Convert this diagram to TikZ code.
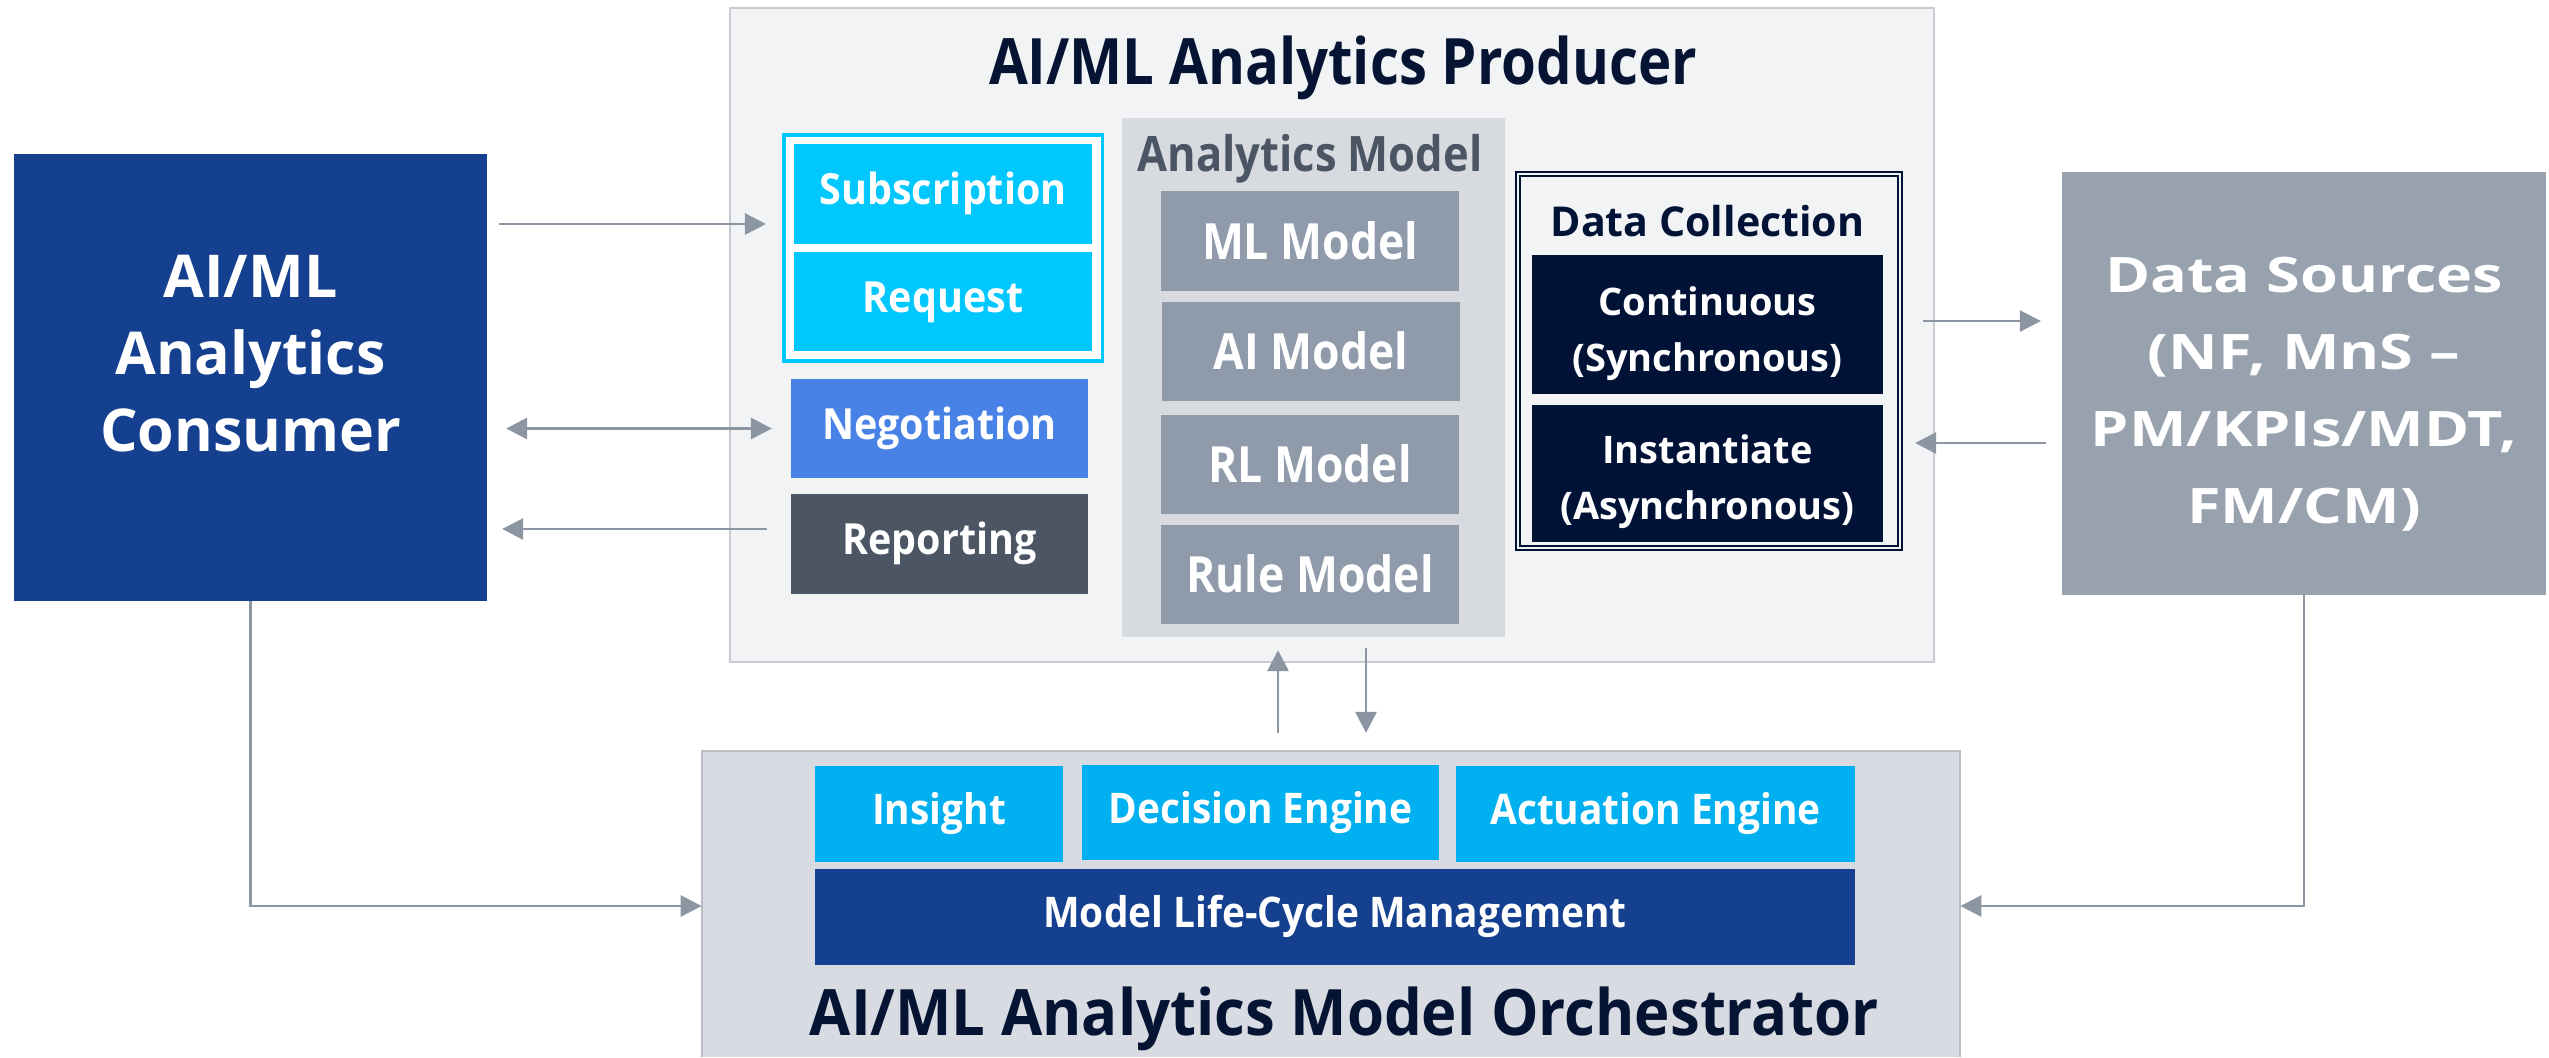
\documentclass[tikz,border=0pt]{standalone}
\usepackage{fontspec}
\setmainfont{Open Sans}
\newfontfamily\fontText{Open Sans}
\newfontfamily\fontHead[FakeStretch=0.88]{Open Sans}
\newfontfamily\fontHeadWide[FakeStretch=0.935]{Open Sans}
\newfontfamily\fontLabel[FakeStretch=0.92]{Open Sans}
\newfontfamily\fontModel[FakeStretch=0.89]{Open Sans}
\newfontfamily\fontWide[FakeStretch=1.25]{Open Sans}
\usetikzlibrary{arrows.meta}

\definecolor{deepblue}{HTML}{14408F}
\definecolor{brightcyan}{HTML}{00C8FF}
\definecolor{enginecyan}{HTML}{00B0F0}
\definecolor{negblue}{HTML}{4982E6}
\definecolor{slate}{HTML}{4B5563}
\definecolor{modelbg}{HTML}{D7DBE0}
\definecolor{modelgray}{HTML}{8F9AAB}
\definecolor{navy}{HTML}{001236}
\definecolor{sourcegray}{HTML}{98A2AF}
\definecolor{prodbg}{HTML}{F2F3F5}
\definecolor{prodline}{HTML}{C8CBCF}
\definecolor{orchbg}{HTML}{D8DBE2}
\definecolor{orchline}{HTML}{B9BDC3}
\definecolor{titlenavy}{HTML}{051432}
\definecolor{linkgray}{HTML}{8C96A3}

\begin{document}
\begin{tikzpicture}[x=0.01cm, y=-0.01cm,
  every node/.append style={inner sep=0pt, outer sep=0pt},
  cell/.style 2 args={rectangle, minimum width=#1, minimum height=#2},
  headfont/.style={font=\fontHead\bfseries\fontsize{18.2pt}{22pt}\selectfont, text=titlenavy},
  headfontwide/.style={font=\fontHeadWide\bfseries\fontsize{18.2pt}{22pt}\selectfont, text=titlenavy},
  labelfont/.style={font=\fontLabel\bfseries\fontsize{12.2pt}{15pt}\selectfont, text=white, text height=0.31cm, text depth=0.1cm},
  modelfont/.style={font=\fontModel\bfseries\fontsize{14.2pt}{17pt}\selectfont, text=white, text height=0.36cm, text depth=0cm},
  enginefont/.style={font=\fontLabel\bfseries\fontsize{12pt}{15pt}\selectfont, text=white, text height=0.30cm, text depth=0.09cm},
  collectfont/.style={font=\fontText\bfseries\fontsize{10.8pt}{16.2pt}\selectfont, text=white, text width=3.4cm, align=center, anchor=base},
  conn/.style={draw=linkgray, line width=0.8pt, -{Triangle[length=0.21cm, width=0.21cm]}},
  conn2/.style={draw=linkgray, line width=0.8pt, {Triangle[length=0.21cm, width=0.21cm]}-{Triangle[length=0.21cm, width=0.21cm]}},
]
\fill[white] (0,0) rectangle (2549,1057);
\useasboundingbox (0,0) rectangle (2549,1057);

% ---------- consumer ----------
\node[cell={4.73cm}{4.47cm}, fill=deepblue] (consumer) at (250.5,377.5) {};
\node[anchor=base, text width=4.5cm, align=center, text=white,
      font=\fontText\bfseries\fontsize{16.8pt}{21.9pt}\selectfont]
      (consumertxt) at (250.5,297) {AI/ML\\Analytics\\Consumer};

% ---------- data sources ----------
\node[cell={4.84cm}{4.23cm}, fill=sourcegray] (ds) at (2304,383.5) {};
\node[anchor=base, text width=4.8cm, align=center, text=white,
      font=\fontWide\bfseries\fontsize{13.9pt}{21.9pt}\selectfont]
      (dstxt) at (2304,292) {Data Sources\\(NF, MnS –\\PM/KPIs/MDT,\\FM/CM)};

% ---------- producer ----------
\node[cell={12.04cm}{6.54cm}, fill=prodbg, draw=prodline, line width=0.6pt] (producer) at (1332,335) {};
\node[headfont, anchor=base] (prodtitle) at (1343,84) {AI/ML Analytics Producer};

% subscription / request group
\node[cell={3.18cm}{2.26cm}, fill=white, draw=brightcyan, line width=0.9pt] (subframe) at (943,248) {};
\node[cell={2.98cm}{1.00cm}, fill=brightcyan, labelfont] (subscription) at (943,194) {Subscription};
\node[cell={2.98cm}{0.99cm}, fill=brightcyan, labelfont] (request) at (943,301.5) {Request};
\node[cell={2.97cm}{0.99cm}, fill=negblue, labelfont] (negotiation) at (939.5,428.5) {Negotiation};
\node[cell={2.97cm}{1.00cm}, fill=slate, labelfont] (reporting) at (939.5,544) {Reporting};

% analytics model
\node[cell={3.83cm}{5.19cm}, fill=modelbg] (amodel) at (1313.5,377.5) {};
\node[anchor=base, text=slate, font=\fontModel\bfseries\fontsize{13.9pt}{17pt}\selectfont]
      (amlabel) at (1310,171) {Analytics Model};
\node[cell={2.98cm}{1.00cm}, fill=modelgray, modelfont] (mlm) at (1310,241) {ML Model};
\node[cell={2.98cm}{0.99cm}, fill=modelgray, modelfont] (aim) at (1311,351.5) {AI Model};
\node[cell={2.98cm}{0.99cm}, fill=modelgray, modelfont] (rlm) at (1310,464.5) {RL Model};
\node[cell={2.98cm}{0.99cm}, fill=modelgray, modelfont] (rulem) at (1310,574.5) {Rule Model};

% data collection
\node[cell={3.82cm}{3.74cm}, fill=prodbg, draw=navy, line width=0.55pt, double=prodbg, double distance=0.6pt] (dcframe) at (1709,361) {};
\node[anchor=base, text=navy, font=\fontText\bfseries\fontsize{11.7pt}{14pt}\selectfont]
      (dctitle) at (1707.5,236) {Data Collection};
\node[cell={3.51cm}{1.39cm}, fill=navy] (cont) at (1707.5,324.5) {};
\node[collectfont] (conttxt) at (1707.5,315) {Continuous\\(Synchronous)};
\node[cell={3.51cm}{1.37cm}, fill=navy] (inst) at (1707.5,473.5) {};
\node[collectfont] (insttxt) at (1707.5,463) {Instantiate\\(Asynchronous)};

% ---------- orchestrator ----------
\node[cell={12.58cm}{3.06cm}, fill=orchbg] (orch) at (1331,904) {};
\draw[orchline, line width=0.6pt] (orch.south west) |- (orch.north east) -- (orch.south east);
\node[cell={2.48cm}{0.96cm}, fill=enginecyan, enginefont] (insight) at (939,814) {Insight};
\node[cell={3.57cm}{0.95cm}, fill=enginecyan, enginefont] (decision) at (1260.5,812.5) {Decision Engine};
\node[cell={3.99cm}{0.96cm}, fill=enginecyan, enginefont] (actuation) at (1655.5,814) {Actuation Engine};
\node[cell={10.40cm}{0.96cm}, fill=deepblue, enginefont] (lcm) at (1335,917) {Model Life-Cycle Management};
\node[headfontwide, anchor=base] (orchtitle) at (1344,1035) {AI/ML Analytics Model Orchestrator};

% ---------- connectors ----------
\coordinate (ysub) at (0,224);
\coordinate (yrep) at (0,529);
\coordinate (ycol) at (0,321);
\coordinate (yins) at (0,443);
\coordinate (ybot) at (0,906);
\coordinate (xup) at (1278,0);
\coordinate (xdown) at (1366,0);

\draw[conn, shorten <=0.12cm, shorten >=0.18cm] (consumer.east |- ysub) -- (subframe.west |- ysub);
\draw[conn2, shorten <=0.19cm, shorten >=0.19cm] (consumer.east |- negotiation.west) -- (negotiation.west);
\draw[conn, shorten <=0.24cm, shorten >=0.15cm] (reporting.west |- yrep) -- (consumer.east |- yrep);
\draw[conn, shorten <=0.23cm, shorten >=0.21cm] (dcframe.east |- ycol) -- (ds.west |- ycol);
\draw[conn, shorten <=0.16cm, shorten >=0.15cm] (ds.west |- yins) -- (dcframe.east |- yins);
\draw[conn, shorten <=0.18cm, shorten >=0.13cm] (orch.north -| xup) -- (amodel.south -| xup);
\draw[conn, shorten <=0.11cm, shorten >=0.18cm] (amodel.south -| xdown) -- (orch.north -| xdown);
\draw[conn] (consumer.south) |- (orch.west |- ybot);
\draw[conn] (ds.south) |- (orch.east |- ybot);
\end{tikzpicture}
\end{document}
